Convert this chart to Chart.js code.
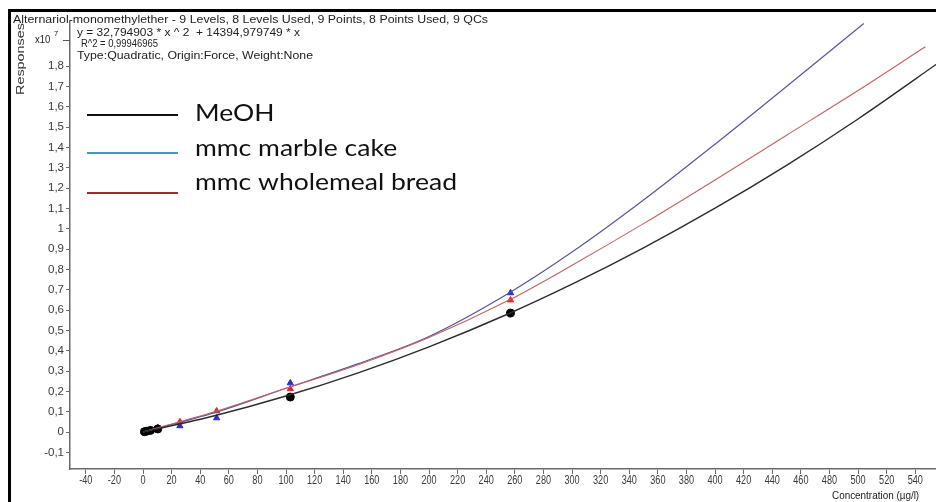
<!DOCTYPE html>
<html>
<head>
<meta charset="utf-8">
<script src="https://cdn.jsdelivr.net/npm/chart.js@4.4.1/dist/chart.umd.min.js"></script>
<style>
  html, body { margin: 0; padding: 0; background: #fff; overflow: hidden; }
  #wrap { width: 936px; height: 502px; position: relative; }
</style>
</head>
<body>
<div id="wrap"><canvas id="calib" width="936" height="502"></canvas></div>
<script>
// ---- header / labels ----
const compoundTitle = 'Alternariol-monomethylether - 9 Levels, 8 Levels Used, 9 Points, 8 Points Used, 9 QCs';
const fitInfo = ['y = 32,794903 * x ^ 2  + 14394,979749 * x', 'R^2 = 0,99946965', 'Type:Quadratic, Origin:Force, Weight:None'];
const seriesNames = ['MeOH', 'mmc marble cake', 'mmc wholemeal bread'];
const yTitle = 'Responses';
const xTitle = 'Concentration (\u00b5g/l)';

// ---- calibration levels (µg/l) and responses (x10^7) ----
const levels = [1, 2.6, 5.2, 10.3, 25.8, 51.5, 103, 257];
const meohResp = [0.0015, 0.004, 0.008, 0.015, null, null, 0.172, 0.585];
const marbleResp = [0.002, 0.005, 0.009, 0.018, 0.030, 0.069, 0.241, 0.684];
const wholemealResp = [0.003, 0.006, 0.012, 0.022, 0.050, 0.103, 0.212, 0.649];

// ---- fitted calibration curves (x10^7) ----
const meohCurveConc = [0, 50, 100, 150, 200, 256, 300, 350, 400, 450, 500, 560];
const meohCurve = [0, 0.080, 0.177, 0.290, 0.419, 0.583, 0.727, 0.906, 1.101, 1.312, 1.540, 1.835];
const marbleCurveConc = [0, 50, 100, 150, 200, 256, 300, 350, 400, 450, 504];
const marbleCurve = [0, 0.095, 0.215, 0.335, 0.470, 0.684, 0.885, 1.141, 1.416, 1.700, 2.010];
const wholemealCurveConc = [0, 50, 100, 150, 200, 256, 300, 350, 400, 450, 500, 547];
const wholemealCurve = [0, 0.100, 0.215, 0.330, 0.465, 0.649, 0.820, 1.025, 1.240, 1.460, 1.680, 1.895];

// ---- axis ticks ----
const xTickStep = 20;
const yTickStep = 0.1;
const yLabelTop = 1.8;

const pts = (xs, ys) => xs.map((x, i) => ({ x, y: ys[i] }));

const curveStyle = (color, width) => ({
  showLine: true, borderColor: color, borderWidth: width, pointRadius: 0,
  cubicInterpolationMode: 'monotone', fill: false
});
const markerStyle = (color, style, r) => ({
  showLine: false, pointStyle: style, pointRadius: r, pointBackgroundColor: color,
  pointBorderColor: color, pointBorderWidth: 1
});

function fmtY(v) {
  const r = Math.round(v * 10) / 10;
  if (Math.abs(r) < 1e-9) return '0';
  if (Number.isInteger(r)) return String(r);
  return r.toFixed(1).replace('.', ',');
}

// text squeezed horizontally by sx
function squeezed(ctx, text, x, y, sx, align) {
  ctx.save();
  ctx.translate(x, y);
  ctx.scale(sx, 1);
  ctx.textAlign = align || 'left';
  ctx.fillText(text, 0, 0);
  ctx.restore();
}
// text fitted to a width
function fitted(ctx, text, x, y, width) {
  const w = ctx.measureText(text).width;
  squeezed(ctx, text, x, y, width / w, 'left');
}

const decorations = {
  id: 'decorations',
  beforeDraw(chart) {
    const ctx = chart.ctx;
    ctx.save();
    ctx.fillStyle = '#fff';
    ctx.fillRect(0, 0, chart.width, chart.height);
    ctx.restore();
  },
  afterDraw(chart) {
    const ctx = chart.ctx;
    const xs = chart.scales.x, ys = chart.scales.y;
    ctx.save();
    ctx.textBaseline = 'middle';

    // tick labels
    ctx.fillStyle = '#3a3a3a';
    ctx.font = '12px "Liberation Sans", Arial, sans-serif';
    xs.ticks.forEach((t, i) => {
      squeezed(ctx, String(t.value), xs.getPixelForTick(i), 481, 0.76, 'center');
    });
    ctx.font = '11.5px "Liberation Sans", Arial, sans-serif';
    ys.ticks.forEach((t, i) => {
      squeezed(ctx, fmtY(t.value), 64, ys.getPixelForTick(i), 1.0, 'right');
    });

    // frame
    ctx.fillStyle = '#000';
    ctx.fillRect(8, 9, chart.width - 8, 3);
    ctx.fillRect(8, 9, 3, chart.height - 9);

    // header
    ctx.fillStyle = '#222';
    ctx.font = '10px "Liberation Sans", Arial, sans-serif';
    fitted(ctx, compoundTitle, 13, 20, 475);
    fitted(ctx, fitInfo[0], 77, 33, 223);
    fitted(ctx, fitInfo[1], 81, 44, 77);
    fitted(ctx, fitInfo[2], 77, 56, 236);

    // exponent marker
    ctx.font = '10px "Liberation Sans", Arial, sans-serif';
    squeezed(ctx, 'x10', 35, 40, 0.95, 'left');
    ctx.font = '8px "Liberation Sans", Arial, sans-serif';
    squeezed(ctx, '7', 54, 34, 0.95, 'left');
    ctx.fillStyle = '#555';
    ctx.fillRect(63, 40, 7, 1);

    // y title
    ctx.fillStyle = '#333';
    ctx.font = '10px "Liberation Sans", Arial, sans-serif';
    ctx.save();
    ctx.translate(21, 95);
    ctx.rotate(-Math.PI / 2);
    fitted(ctx, yTitle, 0, 0, 72);
    ctx.restore();

    // x title
    ctx.fillStyle = '#222';
    ctx.font = '11px "Liberation Sans", Arial, sans-serif';
    squeezed(ctx, xTitle, 832, 496, 0.9, 'left');

    // legend
    const legendColors = ['#111111', '#3f9cbc', '#a42a2a'];
    const lineY = [115, 153, 193];
    const textY = [113, 148, 182];
    ctx.font = '24px Lato, "Noto Sans", sans-serif';
    const legendScale = 262 / ctx.measureText(seriesNames[2]).width;
    seriesNames.forEach((name, i) => {
      ctx.strokeStyle = legendColors[i];
      ctx.lineWidth = 2;
      ctx.beginPath();
      ctx.moveTo(87, lineY[i]);
      ctx.lineTo(178, lineY[i]);
      ctx.stroke();
      ctx.fillStyle = '#111';
      squeezed(ctx, name, 195, textY[i], legendScale, 'left');
    });
    ctx.restore();
  }
};

new Chart(document.getElementById('calib'), {
  type: 'scatter',
  data: {
    datasets: [
      Object.assign({ label: seriesNames[0] + ' fit', data: pts(meohCurveConc, meohCurve) }, curveStyle('#2c2c2c', 1.4)),
      Object.assign({ label: seriesNames[2] + ' fit', data: pts(wholemealCurveConc, wholemealCurve) }, curveStyle('#c26262', 1.1)),
      Object.assign({ label: seriesNames[1] + ' fit', data: pts(marbleCurveConc, marbleCurve) }, curveStyle('#56569a', 1.2)),
      Object.assign({ label: seriesNames[0], data: pts(levels, meohResp) }, markerStyle('#000000', 'circle', 4)),
      Object.assign({ label: seriesNames[1], data: pts(levels, marbleResp) }, markerStyle('#2b2bd6', 'triangle', 3.6)),
      Object.assign({ label: seriesNames[2], data: pts(levels, wholemealResp) }, markerStyle('#e02828', 'triangle', 3.6))
    ]
  },
  options: {
    responsive: false,
    animation: false,
    devicePixelRatio: 1,
    layout: { autoPadding: false, padding: { left: 0, right: 0, top: 22, bottom: 0 } },
    plugins: { legend: { display: false }, tooltip: { enabled: false } },
    scales: {
      x: {
        type: 'linear',
        min: -51.05,
        max: 554.5,
        afterFit(s) { s.height = 33; },
        border: { display: true, color: '#6a6a6a', width: 1.5 },
        grid: { drawOnChartArea: false, drawTicks: true, tickLength: 5, color: '#6a6a6a' },
        ticks: { display: false, stepSize: xTickStep, includeBounds: false, autoSkip: false, maxRotation: 0 }
      },
      y: {
        type: 'linear',
        min: -0.182,
        max: 2.017,
        afterFit(s) { s.width = 70; },
        afterBuildTicks(s) { s.ticks = s.ticks.filter(t => t.value <= yLabelTop + 1e-9); },
        border: { display: true, color: '#6a6a6a', width: 1.5 },
        grid: { drawOnChartArea: false, drawTicks: true, tickLength: 4, color: '#6a6a6a' },
        ticks: { display: false, stepSize: yTickStep, includeBounds: false, autoSkip: false }
      }
    }
  },
  plugins: [decorations]
});
</script>
</body>
</html>
